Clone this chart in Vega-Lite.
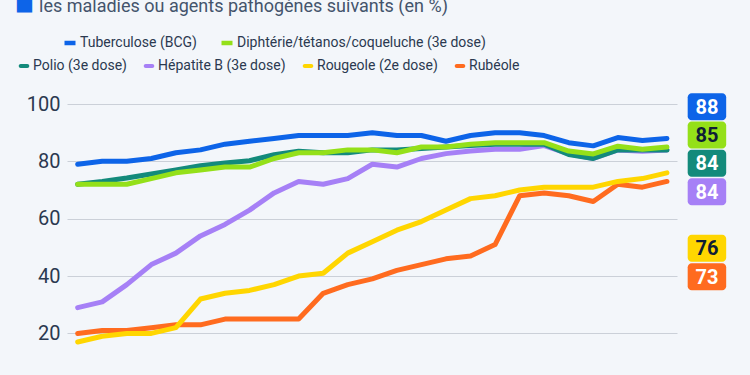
{
  "$schema": "https://vega.github.io/schema/vega-lite/v6.json",
  "width": 610,
  "height": 271,
  "autosize": {"type": "none"},
  "padding": {"left": 67, "top": 104, "right": 73, "bottom": 0},
  "background": "#f3f6fa",
  "title": {
    "text": "■",
    "subtitle": "\u2800\u2009\u2009\u2009les maladies ou agents pathogènes suivants (en %)",
    "anchor": "start",
    "color": "#0d64e8",
    "fontSize": 20,
    "font": "DejaVu Sans",
    "subtitleFont": "Roboto",
    "subtitleFontSize": 18,
    "subtitleColor": "#44546c",
    "subtitlePadding": -16,
    "dx": -2,
    "dy": -15.5
  },
  "data": {
    "values": [
      {"year": 2000, "Tuberculose (BCG)": 79, "Diphtérie/tétanos/coqueluche (3e dose)": 72, "Polio (3e dose)": 72, "Hépatite B (3e dose)": 29, "Rougeole (2e dose)": 17, "Rubéole": 20},
      {"year": 2001, "Tuberculose (BCG)": 80, "Diphtérie/tétanos/coqueluche (3e dose)": 72, "Polio (3e dose)": 73, "Hépatite B (3e dose)": 31, "Rougeole (2e dose)": 19, "Rubéole": 21},
      {"year": 2002, "Tuberculose (BCG)": 80, "Diphtérie/tétanos/coqueluche (3e dose)": 72, "Polio (3e dose)": 74.2, "Hépatite B (3e dose)": 37, "Rougeole (2e dose)": 20, "Rubéole": 21},
      {"year": 2003, "Tuberculose (BCG)": 81, "Diphtérie/tétanos/coqueluche (3e dose)": 74, "Polio (3e dose)": 75.6, "Hépatite B (3e dose)": 44, "Rougeole (2e dose)": 20, "Rubéole": 22},
      {"year": 2004, "Tuberculose (BCG)": 83, "Diphtérie/tétanos/coqueluche (3e dose)": 76, "Polio (3e dose)": 77, "Hépatite B (3e dose)": 48, "Rougeole (2e dose)": 22, "Rubéole": 23},
      {"year": 2005, "Tuberculose (BCG)": 84, "Diphtérie/tétanos/coqueluche (3e dose)": 77, "Polio (3e dose)": 78.5, "Hépatite B (3e dose)": 54, "Rougeole (2e dose)": 32, "Rubéole": 23},
      {"year": 2006, "Tuberculose (BCG)": 86, "Diphtérie/tétanos/coqueluche (3e dose)": 78, "Polio (3e dose)": 79.4, "Hépatite B (3e dose)": 58, "Rougeole (2e dose)": 34, "Rubéole": 25},
      {"year": 2007, "Tuberculose (BCG)": 87, "Diphtérie/tétanos/coqueluche (3e dose)": 78, "Polio (3e dose)": 80.2, "Hépatite B (3e dose)": 63, "Rougeole (2e dose)": 35, "Rubéole": 25},
      {"year": 2008, "Tuberculose (BCG)": 88, "Diphtérie/tétanos/coqueluche (3e dose)": 81, "Polio (3e dose)": 82.3, "Hépatite B (3e dose)": 69, "Rougeole (2e dose)": 37, "Rubéole": 25},
      {"year": 2009, "Tuberculose (BCG)": 89, "Diphtérie/tétanos/coqueluche (3e dose)": 83, "Polio (3e dose)": 83.5, "Hépatite B (3e dose)": 73, "Rougeole (2e dose)": 40, "Rubéole": 25},
      {"year": 2010, "Tuberculose (BCG)": 89, "Diphtérie/tétanos/coqueluche (3e dose)": 83, "Polio (3e dose)": 83, "Hépatite B (3e dose)": 72, "Rougeole (2e dose)": 41, "Rubéole": 34},
      {"year": 2011, "Tuberculose (BCG)": 89, "Diphtérie/tétanos/coqueluche (3e dose)": 84, "Polio (3e dose)": 83, "Hépatite B (3e dose)": 74, "Rougeole (2e dose)": 48, "Rubéole": 37},
      {"year": 2012, "Tuberculose (BCG)": 90, "Diphtérie/tétanos/coqueluche (3e dose)": 84, "Polio (3e dose)": 84, "Hépatite B (3e dose)": 79, "Rougeole (2e dose)": 52, "Rubéole": 39},
      {"year": 2013, "Tuberculose (BCG)": 89, "Diphtérie/tétanos/coqueluche (3e dose)": 83, "Polio (3e dose)": 84, "Hépatite B (3e dose)": 78, "Rougeole (2e dose)": 56, "Rubéole": 42},
      {"year": 2014, "Tuberculose (BCG)": 89, "Diphtérie/tétanos/coqueluche (3e dose)": 85, "Polio (3e dose)": 84.5, "Hépatite B (3e dose)": 81, "Rougeole (2e dose)": 59, "Rubéole": 44},
      {"year": 2015, "Tuberculose (BCG)": 87, "Diphtérie/tétanos/coqueluche (3e dose)": 85, "Polio (3e dose)": 85, "Hépatite B (3e dose)": 82.7, "Rougeole (2e dose)": 63, "Rubéole": 46},
      {"year": 2016, "Tuberculose (BCG)": 89, "Diphtérie/tétanos/coqueluche (3e dose)": 86, "Polio (3e dose)": 85.5, "Hépatite B (3e dose)": 83.6, "Rougeole (2e dose)": 67, "Rubéole": 47},
      {"year": 2017, "Tuberculose (BCG)": 90, "Diphtérie/tétanos/coqueluche (3e dose)": 86.5, "Polio (3e dose)": 86, "Hépatite B (3e dose)": 84.2, "Rougeole (2e dose)": 68, "Rubéole": 51},
      {"year": 2018, "Tuberculose (BCG)": 90, "Diphtérie/tétanos/coqueluche (3e dose)": 86.5, "Polio (3e dose)": 86, "Hépatite B (3e dose)": 84.2, "Rougeole (2e dose)": 70, "Rubéole": 68},
      {"year": 2019, "Tuberculose (BCG)": 89, "Diphtérie/tétanos/coqueluche (3e dose)": 86.5, "Polio (3e dose)": 86, "Hépatite B (3e dose)": 85.5, "Rougeole (2e dose)": 71, "Rubéole": 69},
      {"year": 2020, "Tuberculose (BCG)": 86.5, "Diphtérie/tétanos/coqueluche (3e dose)": 83.6, "Polio (3e dose)": 82.4, "Hépatite B (3e dose)": 82.6, "Rougeole (2e dose)": 71, "Rubéole": 68},
      {"year": 2021, "Tuberculose (BCG)": 85.4, "Diphtérie/tétanos/coqueluche (3e dose)": 82.6, "Polio (3e dose)": 81, "Hépatite B (3e dose)": 81, "Rougeole (2e dose)": 71, "Rubéole": 66},
      {"year": 2022, "Tuberculose (BCG)": 88.3, "Diphtérie/tétanos/coqueluche (3e dose)": 85.3, "Polio (3e dose)": 84, "Hépatite B (3e dose)": 84, "Rougeole (2e dose)": 73, "Rubéole": 72},
      {"year": 2023, "Tuberculose (BCG)": 87.3, "Diphtérie/tétanos/coqueluche (3e dose)": 84.2, "Polio (3e dose)": 84, "Hépatite B (3e dose)": 83.5, "Rougeole (2e dose)": 74, "Rubéole": 71},
      {"year": 2024, "Tuberculose (BCG)": 88, "Diphtérie/tétanos/coqueluche (3e dose)": 85, "Polio (3e dose)": 84, "Hépatite B (3e dose)": 84, "Rougeole (2e dose)": 76, "Rubéole": 73}
    ]
  },
  "transform": [
    {"fold": ["Rubéole", "Rougeole (2e dose)", "Hépatite B (3e dose)", "Polio (3e dose)", "Diphtérie/tétanos/coqueluche (3e dose)", "Tuberculose (BCG)"], "as": ["series", "value"]}
  ],
  "resolve": {"scale": {"y": "independent"}},
  "layer": [
    {
      "mark": {"type": "line", "strokeWidth": 5, "strokeCap": "round", "strokeJoin": "round"},
      "encoding": {
        "x": {"field": "year", "type": "quantitative", "scale": {"domain": [1999.565, 2024.41], "nice": false, "zero": false}, "axis": null},
        "y": {"field": "value", "type": "quantitative", "scale": {"domain": [5.5, 100], "nice": false, "zero": false},
          "axis": {"values": [20, 40, 60, 80, 100], "domain": false, "ticks": false, "title": null, "labelFont": "Roboto", "labelFontSize": 20, "labelColor": "#2b3950", "labelPadding": 7, "gridColor": "#cbd0d8", "gridWidth": 1}},
        "stroke": {"field": "series", "type": "nominal",
          "scale": {"domain": ["Tuberculose (BCG)", "Diphtérie/tétanos/coqueluche (3e dose)", "Polio (3e dose)", "Hépatite B (3e dose)", "Rougeole (2e dose)", "Rubéole"], "range": ["#0d64e8", "#94e019", "#138a7b", "#a680f6", "#ffd600", "#ff6b1f"]},
          "legend": {"values": ["Tuberculose (BCG)", "Diphtérie/tétanos/coqueluche (3e dose)"], "orient": "none", "legendX": -5, "legendY": -69, "direction": "horizontal", "title": null, "symbolType": "stroke", "symbolStrokeWidth": 4.5, "symbolSize": 121}}
      }
    },
    {
      "transform": [{"filter": "datum.year == 2024"}],
      "mark": {"type": "rect", "width": 38.5, "height": 27, "cornerRadius": 4, "xOffset": 40},
      "encoding": {
        "x": {"field": "year", "type": "quantitative"},
        "y": {"field": "series", "type": "nominal", "scale": {"type": "point", "domain": ["Tuberculose (BCG)", "Diphtérie/tétanos/coqueluche (3e dose)", "Polio (3e dose)", "Hépatite B (3e dose)", "-", "Rougeole (2e dose)", "Rubéole"], "range": [2.7, 172.7], "padding": 0}, "axis": null},
        "fill": {"field": "series", "type": "nominal",
          "scale": {"domain": ["Polio (3e dose)", "Hépatite B (3e dose)", "Rougeole (2e dose)", "Rubéole", "Tuberculose (BCG)", "Diphtérie/tétanos/coqueluche (3e dose)"], "range": ["#138a7b", "#a680f6", "#ffd600", "#ff6b1f", "#0d64e8", "#94e019"]},
          "legend": {"values": ["Polio (3e dose)", "Hépatite B (3e dose)", "Rougeole (2e dose)", "Rubéole"], "orient": "none", "legendX": -50, "legendY": -45, "direction": "horizontal", "title": null, "symbolType": "M-0.6,-0.36L0.6,-0.36A0.36,0.36,0,0,1,0.6,0.36L-0.6,0.36A0.36,0.36,0,0,1,-0.6,-0.36Z", "symbolSize": 121, "symbolStrokeWidth": 0}}
      }
    },
    {
      "transform": [{"filter": "datum.year == 2024"}],
      "mark": {"type": "text", "dx": 40, "dy": 1, "fontSize": 20, "fontWeight": "bold", "font": "Roboto", "align": "center", "baseline": "middle"},
      "encoding": {
        "x": {"field": "year", "type": "quantitative"},
        "y": {"field": "series", "type": "nominal", "scale": {"type": "point", "domain": ["Tuberculose (BCG)", "Diphtérie/tétanos/coqueluche (3e dose)", "Polio (3e dose)", "Hépatite B (3e dose)", "-", "Rougeole (2e dose)", "Rubéole"], "range": [2.7, 172.7], "padding": 0}, "axis": null},
        "text": {"field": "value", "type": "quantitative", "format": "d"},
        "color": {"condition": {"test": "datum.series === 'Diphtérie/tétanos/coqueluche (3e dose)' || datum.series === 'Rougeole (2e dose)'", "value": "#0f1d36"}, "value": "#ffffff"}
      }
    }
  ],
  "config": {
    "view": {"stroke": null},
    "legend": {"labelFont": "Roboto", "labelFontSize": 14, "labelColor": "#2b3950", "labelOffset": 2, "columnPadding": 15, "padding": 0, "labelLimit": 400}
  }
}
